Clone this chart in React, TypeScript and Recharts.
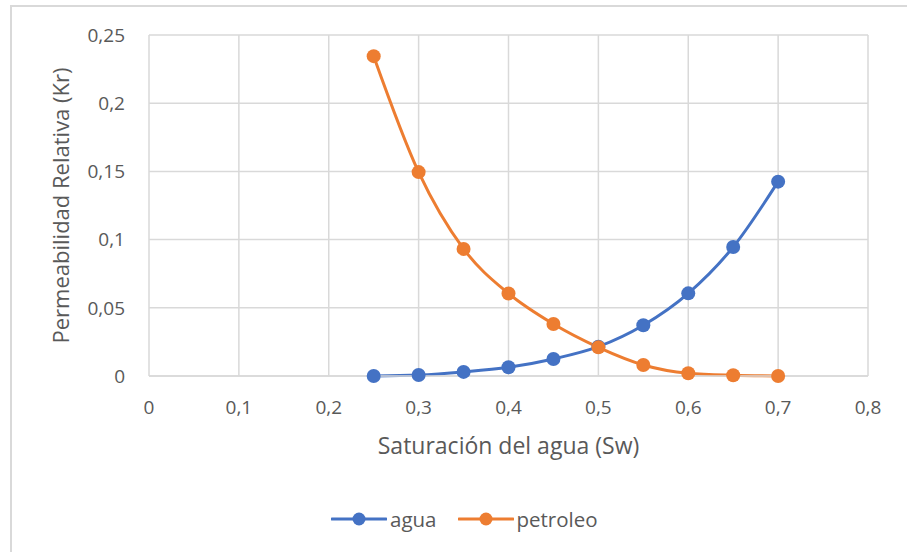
import { CartesianGrid, Label, Line, LineChart, XAxis, YAxis } from "recharts";

// Saturación del agua (Sw) en el eje X
const sw = [0.25, 0.3, 0.35, 0.4, 0.45, 0.5, 0.55, 0.6, 0.65, 0.7];
const agua = [0, 0.0007, 0.003, 0.0064, 0.0125, 0.0215, 0.0372, 0.0606, 0.0946, 0.1425];
const petroleo = [0.2345, 0.1495, 0.0932, 0.0605, 0.0381, 0.021, 0.0081, 0.002, 0.0005, 0];

const xTicks = [0, 0.1, 0.2, 0.3, 0.4, 0.5, 0.6, 0.7, 0.8];
const yTicks = [0, 0.05, 0.1, 0.15, 0.2, 0.25];

const BLUE = "#4472C4";
const ORANGE = "#ED7D31";
const GRID = "#d9d9d9";
const TEXT = "#595959";
const FONT = "'Open Sans', sans-serif";

const rows = sw.map((x, i) => ({ sw: x, agua: agua[i], petroleo: petroleo[i] }));

const comma = (v: number) => String(v).replace(".", ",");

function LegendItem({ color, label, gap }: { color: string; label: string; gap: number }) {
  return (
    <span style={{ display: "inline-flex", alignItems: "center", marginRight: gap }}>
      <svg width={56} height={16} style={{ marginRight: 3 }}>
        <line x1={1} y1={8} x2={55} y2={8} stroke={color} strokeWidth={3} strokeLinecap="round" />
        <circle cx={28} cy={8} r={6.5} fill={color} />
      </svg>
      <span>{label}</span>
    </span>
  );
}

export default function App() {
  return (
    <div style={{ position: "fixed", left: 0, top: 0, width: 907, height: 552, overflow: "hidden", background: "#fff" }}>
      <div style={{ position: "absolute", left: 10, top: 5, width: 1000, height: 1000, border: `2px solid ${GRID}` }} />
      <div style={{ position: "absolute", left: 0, top: 0 }}>
        <LineChart width={907} height={552} data={rows} margin={{ top: 35, right: 39, bottom: 96, left: 49 }}>
          <CartesianGrid stroke={GRID} strokeWidth={1.5} />
          <XAxis
            dataKey="sw"
            type="number"
            domain={[0, 0.8]}
            ticks={xTicks}
            tickFormatter={comma}
            height={80}
            axisLine={{ stroke: GRID, strokeWidth: 1.5 }}
            tickLine={false}
            tickSize={8}
            tickMargin={17}
            tick={{ fill: TEXT, fontSize: 19, fontFamily: FONT }}
          >
            <Label value="Saturación del agua (Sw)" position="insideBottom" offset={2} fill={TEXT} fontSize={23} fontFamily={FONT} />
          </XAxis>
          <YAxis
            type="number"
            domain={[0, 0.25]}
            ticks={yTicks}
            tickFormatter={comma}
            width={100}
            axisLine={false}
            tickLine={false}
            tickSize={8}
            tickMargin={16}
            tick={{ fill: TEXT, fontSize: 19, fontFamily: FONT }}
          >
            <Label value="Permeabilidad Relativa (Kr)" angle={-90} position="insideLeft" offset={12} fill={TEXT} fontSize={22} fontFamily={FONT} style={{ textAnchor: "middle" }} />
          </YAxis>
          <Line type="monotone" dataKey="agua" stroke={BLUE} strokeWidth={3} dot={{ r: 7, fill: BLUE, stroke: BLUE, strokeWidth: 0 }} isAnimationActive={false} />
          <Line type="monotone" dataKey="petroleo" stroke={ORANGE} strokeWidth={3} dot={{ r: 7, fill: ORANGE, stroke: ORANGE, strokeWidth: 0 }} isAnimationActive={false} />
        </LineChart>
      </div>
      <div style={{ position: "absolute", left: 331, top: 505, fontFamily: FONT, fontSize: 20.5, color: TEXT, whiteSpace: "nowrap", lineHeight: "28px" }}>
        <LegendItem color={BLUE} label="agua" gap={21} />
        <LegendItem color={ORANGE} label="petroleo" gap={0} />
      </div>
    </div>
  );
}
